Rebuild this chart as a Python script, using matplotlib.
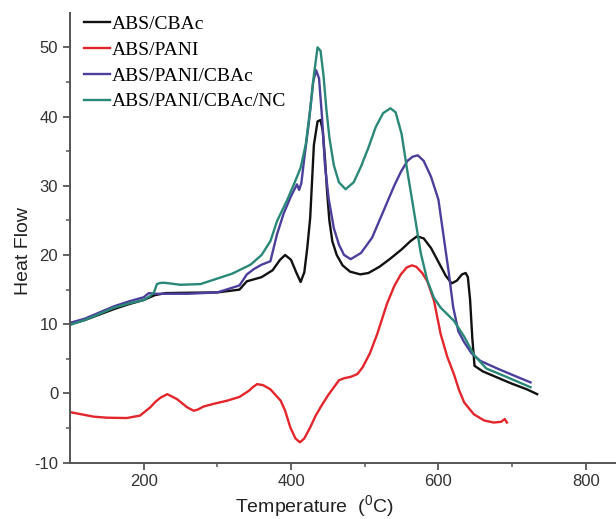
import matplotlib
matplotlib.use('Agg')
import matplotlib.pyplot as plt
import numpy as np

plt.rcParams['axes.unicode_minus'] = False

# ABS/CBAc
x_cbac = [100, 120, 140, 160, 180, 200, 215, 230, 260, 300, 330, 340, 350, 360, 375, 385, 392, 400,
          407, 413, 418, 422, 426, 431, 436, 440, 443, 446, 449, 452, 456, 462, 470, 480, 494, 505,
          520, 535, 550, 562, 571, 580, 590, 600, 610, 618, 625, 632, 637, 640, 643, 646, 649, 660,
          680, 700, 720, 734]
y_cbac = [10.0, 10.6, 11.4, 12.2, 12.9, 13.5, 14.2, 14.5, 14.55, 14.6, 15.0, 16.2, 16.5, 16.8, 17.8,
          19.3, 20.0, 19.3, 17.5, 16.1, 17.5, 21.0, 25.4, 35.9, 39.3, 39.5, 38.0, 34.0, 29.0, 25.0,
          22.0, 20.0, 18.5, 17.6, 17.2, 17.4, 18.3, 19.5, 20.8, 22.0, 22.7, 22.4, 21.0, 19.0, 17.0,
          15.9, 16.3, 17.2, 17.4, 16.8, 13.5, 8.0, 4.0, 3.2, 2.3, 1.4, 0.6, -0.1]

# ABS/PANI
x_pani = [100, 120, 132, 150, 177, 195, 209, 216, 223, 232, 245, 259, 268, 274, 281, 295, 313, 330,
          343, 348, 354, 362, 372, 386, 392, 399, 406, 412, 418, 426, 433, 440, 450, 465, 472, 481,
          490, 497, 507, 517, 530, 540, 549, 557, 564, 570, 578, 585, 594, 603, 612, 621, 628, 635,
          648, 662, 675, 685, 690, 693]
y_pani = [-2.7, -3.1, -3.35, -3.5, -3.55, -3.2, -2.0, -1.2, -0.6, -0.1, -0.8, -2.0, -2.5, -2.3,
          -1.9, -1.5, -1.05, -0.5, 0.4, 0.9, 1.35, 1.2, 0.6, -1.05, -2.5, -4.9, -6.5, -7.06, -6.5,
          -4.9, -3.3, -2.0, -0.3, 1.9, 2.2, 2.4, 2.8, 3.75, 5.8, 8.6, 12.9, 15.5, 17.2, 18.2, 18.5,
          18.3, 17.4, 16.2, 13.4, 8.6, 5.3, 2.8, 0.5, -1.3, -3.0, -3.9, -4.2, -4.1, -3.7, -4.2]

# ABS/PANI/CBAc
x_pc = [100, 120, 140, 160, 180, 200, 207, 215, 230, 260, 300, 330, 340, 350, 360, 372, 381, 390,
        400, 408, 411, 414, 418, 424, 430, 434, 438, 442, 446, 451, 458, 465, 472, 481, 495, 510,
        526, 540, 549, 558, 565, 572, 580, 590, 600, 608, 614, 620, 627, 635, 645, 657, 680, 700,
        725]
y_pc = [10.2, 10.8, 11.7, 12.6, 13.3, 13.9, 14.5, 14.4, 14.4, 14.4, 14.6, 15.6, 17.2, 18.0, 18.6,
        19.1, 23.0, 26.0, 28.5, 30.2, 29.4, 30.4, 34.0, 39.0, 45.0, 46.7, 45.5, 40.0, 33.0, 28.2,
        23.9, 21.5, 20.0, 19.4, 20.3, 22.5, 26.5, 30.0, 32.0, 33.6, 34.2, 34.4, 33.6, 31.3, 28.0,
        22.0, 17.5, 12.5, 9.0, 7.4, 5.8, 4.7, 3.6, 2.7, 1.6]

# ABS/PANI/CBAc/NC
x_nc = [100, 120, 140, 160, 180, 200, 209, 214, 218, 222, 227, 235, 250, 277, 300, 320, 345, 360,
        372, 381, 395, 405, 413, 420, 426, 431, 436, 440, 444, 448, 452, 458, 465, 474, 485, 495,
        505, 515, 525, 535, 542, 550, 558, 569, 576, 585, 594, 603, 621, 635, 648, 665, 690, 725]
y_nc = [9.9, 10.6, 11.5, 12.4, 13.0, 13.5, 14.1, 14.6, 15.8, 15.95, 16.0, 15.9, 15.7, 15.8, 16.6,
        17.3, 18.6, 20.0, 22.0, 24.9, 28.0, 30.5, 32.6, 36.0, 41.0, 46.0, 50.0, 49.5, 46.0, 41.0,
        37.0, 33.0, 30.5, 29.5, 30.5, 32.8, 35.5, 38.5, 40.5, 41.2, 40.6, 37.5, 32.0, 24.9, 20.3,
        16.3, 13.8, 12.4, 10.5, 8.2, 5.6, 3.6, 2.5, 0.9]

labels = ['ABS/CBAc', 'ABS/PANI', 'ABS/PANI/CBAc', 'ABS/PANI/CBAc/NC']

fig = plt.figure(figsize=(6.16, 5.19), dpi=100)
ax = fig.add_axes([0.1136, 0.1085, 0.8864, 0.867])

lw = 1.7
ax.plot(x_cbac, y_cbac, color='#111111', lw=lw, label=labels[0])
ax.plot(x_pani, y_pani, color='#e2262b', lw=lw, label=labels[1])
ax.plot(x_pc, y_pc, color='#4b3f9c', lw=lw, label=labels[2])
ax.plot(x_nc, y_nc, color='#2a8878', lw=lw, label=labels[3])

ax.set_xlim(100, 841)
ax.set_ylim(-10, 55)
ax.set_xticks([200, 400, 600, 800])
ax.set_xticks([300, 500, 700], minor=True)
ax.set_yticks([-10, 0, 10, 20, 30, 40, 50])
ax.set_yticks([-5, 5, 15, 25, 35, 45], minor=True)

for s in ['top', 'right']:
    ax.spines[s].set_visible(False)
for s in ['left', 'bottom']:
    ax.spines[s].set_color('#555555')
    ax.spines[s].set_linewidth(1.4)

ax.tick_params(which='major', direction='out', length=5, width=1.3, color='#555555',
               labelsize=12, labelcolor='#333333')
ax.tick_params(which='minor', direction='out', length=3, width=1.1, color='#555555')
for t in ax.get_xticklabels() + ax.get_yticklabels():
    t.set_family('Liberation Sans')

ax.set_xlabel('Temperature  ($\\mathregular{^{0}}$C)', fontsize=14, family='Liberation Sans',
              color='#222222')
ax.set_ylabel('Heat Flow', fontsize=14, family='Liberation Sans', color='#222222')
ax.xaxis.set_label_coords(0.447, -0.068)
ax.yaxis.set_label_coords(-0.07, 0.47)

leg = ax.legend(loc='upper left', bbox_to_anchor=(0.005, 1.02), frameon=False,
                prop={'family': 'Liberation Serif', 'size': 14}, handlelength=1.3,
                handletextpad=0.1, labelspacing=0.42, borderaxespad=0.2)

fig.savefig('out.png', dpi=100)
